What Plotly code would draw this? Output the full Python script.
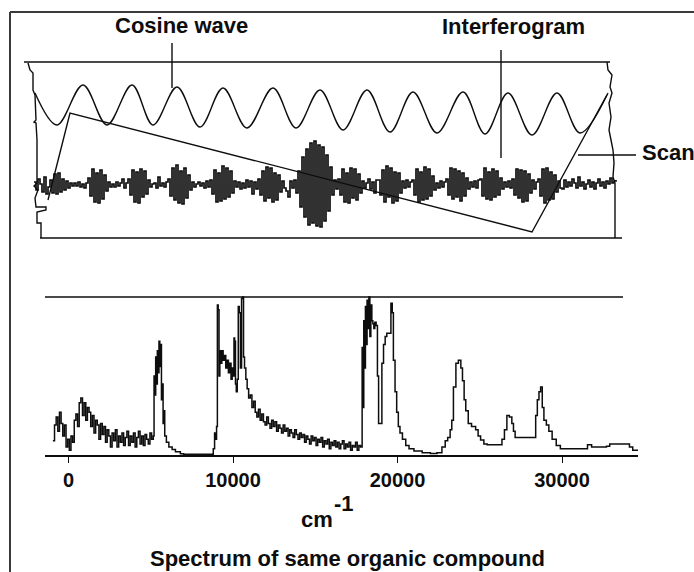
import plotly.graph_objects as go

W, H = 694, 572

# ---------------- top panel (arbitrary instrument units) ----------------
# cosine wave (reference laser) : extrema
cos_x = [13, 35, 61, 85, 110, 131, 155, 178, 201, 225, 251, 274, 298, 321, 345,
         368, 391, 415, 441, 463, 486, 510, 535, 558, 585]
cos_y = [145, 113, 153, 113, 153, 113, 151, 111, 150, 110, 150, 110, 148, 108, 148,
         106, 146, 105, 146, 104, 145, 103, 145, 105, 143]

# mirror scan (saw-tooth)
scan_x = [26, 48, 510, 586]
scan_y = [38, 125, 6, 145]

# jagged left / right traces of the recorder
left_x = [6, 8, 11, 11, 13, 14, 12, 14, 15, 15, 12, 16, 13, 14, 24, 24, 15, 15, 19, 19]
left_y = [175, 168, 165, 148, 143, 118, 116, 115, 98, 55, 52, 48, 40, 31, 31, 28, 26, 15, 15, 0]
right_x = [585, 586, 590, 588, 590, 587, 589, 587, 589, 591, 592, 591, 593, 593]
right_y = [176, 168, 163, 151, 145, 135, 121, 108, 98, 88, 75, 61, 55, 0]

# interferogram signal (sample index, amplitude about its own zero)
ifg_x = list(range(12, 596, 2))
ifg_y = [
    3, -5, 6, 1, -7, 8, -9, -2, 5, -8,
    11, -9, 12, -7, 6, -5, 4, -3, 2, -1,
    2, -1, 3, -2, 1, -3, 2, 7, -11, 16,
    -17, 12, -18, 15, -14, 10, -6, 3, -2, 1,
    -2, 3, -1, 2, 6, -3, 2, 6, -10, 15,
    -17, 13, -18, 16, -12, 14, -9, 5, -2, 1,
    2, -3, 8, -1, 2, -2, 3, 6, -11, 17,
    -15, 20, -18, 14, -19, 17, -13, 10, -5, 3,
    -2, 1, 3, -1, 2, -3, 4, -2, 5, -9,
    15, -17, 12, -16, 19, -14, 17, -12, 14, -8,
    4, -2, 3, -4, 2, -3, 5, -2, 4, -9,
    3, -4, 6, -10, 14, -16, 18, -13, 17, -17,
    12, -15, 10, -7, 4, -3, -6, -12, 4, -3,
    5, -8, 14, -22, 28, -32, 36, -40, 42, -38,
    44, -41, 40, -42, 38, -36, 30, -26, 18, -10,
    5, -4, 6, -10, 16, -17, 12, -18, 17, -13,
    16, -15, 11, -8, 4, -3, 2, 6, -4, 3,
    -8, 5, 5, -10, 15, -17, 19, -12, 17, -18,
    13, -16, 12, -8, 4, -3, 5, -2, 3, 5,
    -10, 16, -17, 13, -15, 18, -14, 16, -11, 9,
    -5, 2, -3, 4, -2, 3, 6, -10, 17, -14,
    16, -12, 14, -16, 12, -11, 7, -4, 3, -2,
    4, -3, 5, 6, -11, 17, -14, 13, -15, 16,
    -12, 14, -10, 7, -4, 3, -2, 4, -3, 6,
    -10, 16, -13, 15, -17, 14, -16, 11, -8, 5,
    -4, 3, 6, -11, 16, -18, 17, -15, 13, -14,
    10, -7, 4, -3, -4, 5, -2, 3, -1, 6,
    2, -3, 8, -1, 3, -4, 1, 5, -2, 3,
    -4, 2, 6, -1, 3, -3, 4, 1, 7, 2,
    4, 5,
]

# ---------------- bottom panel : spectrum ----------------
spec_wn = [
    # noisy low-wavenumber band
    -950, -850, -750, -650, -550, -450, -350, -250, -150, -50,
    50, 150, 250, 350, 450, 550, 650, 750, 850, 950,
    1050, 1150, 1250, 1350, 1450, 1550, 1650, 1750, 1850, 1950,
    2050, 2150, 2250, 2350, 2450, 2550, 2650, 2750, 2850, 2950,
    3050, 3150, 3250, 3350, 3450, 3550, 3650, 3750, 3850, 3950,
    4050, 4150, 4250, 4350, 4450, 4550, 4650, 4750, 4850, 4950,
    5050,
    # peak near 5500
    5150, 5200, 5250, 5300, 5350, 5400, 5450, 5500, 5550, 5600,
    5650, 5700, 5750, 5800, 5850, 5950, 6100, 6300, 6500, 6800,
    7000, 8700,
    # double peak near 10000
    8800, 8880, 8950, 9000, 9050, 9100, 9150, 9200, 9260, 9320,
    9400, 9480, 9560, 9640, 9720, 9800, 9880, 9950, 10000, 10060,
    10100, 10150, 10200, 10260, 10320, 10380, 10450, 10520, 10580, 10640,
    10700, 10780, 10860, 10950,
    # noisy decay
    11050, 11150, 11250, 11350, 11450, 11550, 11650, 11750, 11850, 11950,
    12050, 12150, 12250, 12350, 12450, 12550, 12650, 12750, 12850, 12950,
    13050, 13150, 13250, 13350, 13450, 13550, 13650, 13750, 13850, 13950,
    14050, 14150, 14250, 14350, 14450, 14550, 14650, 14750, 14850, 14950,
    15050, 15150, 15250, 15350, 15450, 15550, 15650, 15750, 15850, 15950,
    16050, 16150, 16250, 16350, 16450, 16550, 16650, 16750, 16850, 16950,
    17050, 17150, 17250, 17350, 17450, 17550, 17650,
    # strong band near 18000-20000 and the weaker ones
    17750, 17850, 17900, 17950, 18000, 18050, 18100, 18150, 18200, 18260, 18320, 18380,
    18440, 18500, 18560, 18620, 18700, 18780, 18850, 18950, 19050, 19150, 19250, 19350,
    19500, 19600, 19680, 19750, 19850, 19950, 20050, 20150, 20300, 20500, 20700, 21000,
    21500, 22000, 22400, 22700, 22900, 23050, 23200, 23300, 23400, 23550, 23700, 23850,
    23950, 24050, 24150, 24300, 24500, 24750, 24900, 25050, 25250, 25450, 26200, 26350,
    26500, 26650, 26800, 26950, 27050, 27150, 28250, 28400, 28500, 28600, 28700, 28800,
    28900, 29050, 29200, 29400, 29650, 29900, 31300, 31550, 31800, 32700, 32900, 33900,
    34100, 34300, 34700,
]
spec_val = [
    0.09, 0.19, 0.24, 0.15, 0.27, 0.20, 0.12, 0.19, 0.05, 0.10,
    0.03, 0.12, 0.08, 0.22, 0.26, 0.18, 0.33, 0.36, 0.25, 0.33,
    0.22, 0.30, 0.27, 0.18, 0.25, 0.14, 0.22, 0.19, 0.10, 0.20,
    0.13, 0.18, 0.08, 0.16, 0.12, 0.05, 0.14, 0.09, 0.16, 0.05,
    0.12, 0.08, 0.14, 0.06, 0.11, 0.15, 0.06, 0.12, 0.08, 0.14,
    0.05, 0.11, 0.15, 0.07, 0.12, 0.06, 0.13, 0.10, 0.07, 0.14,
    0.10,
    0.12, 0.50, 0.38, 0.62, 0.45, 0.66, 0.52, 0.72, 0.56, 0.70,
    0.35, 0.45, 0.20, 0.28, 0.12, 0.08, 0.05, 0.035, 0.02, 0.008,
    0.004, 0.004,
    0.04, 0.14, 0.10, 0.18, 0.95, 0.92, 0.50, 0.66, 0.58, 0.66,
    0.60, 0.63, 0.55, 0.60, 0.52, 0.58, 0.48, 0.55, 0.50, 0.74,
    0.72, 0.45, 0.40, 0.48, 0.94, 0.90, 0.55, 0.99, 1.00, 0.62,
    0.55, 0.48, 0.42, 0.36,
    0.38, 0.30, 0.34, 0.27, 0.24, 0.29, 0.22, 0.26, 0.21, 0.19,
    0.24, 0.20, 0.17, 0.22, 0.18, 0.21, 0.15, 0.19, 0.17, 0.14,
    0.19, 0.15, 0.17, 0.12, 0.16, 0.14, 0.11, 0.16, 0.13, 0.10,
    0.14, 0.11, 0.13, 0.08, 0.12, 0.10, 0.07, 0.12, 0.09, 0.11,
    0.06, 0.10, 0.08, 0.11, 0.05, 0.09, 0.07, 0.10, 0.04, 0.08,
    0.06, 0.09, 0.05, 0.08, 0.04, 0.07, 0.09, 0.04, 0.07, 0.05,
    0.08, 0.03, 0.06, 0.05, 0.08, 0.03, 0.06,
    0.05, 0.68, 0.30, 0.85, 0.55, 0.94, 0.70, 0.98, 0.80, 1.00, 0.75, 0.95,
    0.85, 0.83, 0.80, 0.84, 0.82, 0.50, 0.20, 0.20, 0.58, 0.70, 0.75, 0.77,
    0.77, 0.96, 0.90, 0.60, 0.40, 0.27, 0.18, 0.14, 0.10, 0.06, 0.04, 0.025,
    0.015, 0.01, 0.015, 0.05, 0.09, 0.11, 0.16, 0.22, 0.43, 0.58, 0.60, 0.55,
    0.47, 0.35, 0.28, 0.20, 0.18, 0.16, 0.12, 0.095, 0.07, 0.065, 0.065, 0.10,
    0.16, 0.25, 0.24, 0.20, 0.15, 0.11, 0.11, 0.25, 0.35, 0.40, 0.43, 0.30,
    0.22, 0.19, 0.15, 0.10, 0.06, 0.04, 0.04, 0.065, 0.05, 0.055, 0.07, 0.07,
    0.05, 0.03, 0.03,
]
tick_vals = [0, 10000, 20000, 30000]
tick_text = ["0", "10000", "20000", "30000"]

INK = "#0d0d0d"
FRAME = "#3a3a3a"
FONT = "Liberation Sans, Arial, sans-serif"


def px(x):
    return x / W


def py(y):
    return 1 - y / H


fig = go.Figure()

line_style = dict(color=INK, width=1.4)
fig.add_trace(go.Scatter(x=cos_x, y=cos_y, mode="lines",
                         line=dict(color=INK, width=1.4, shape="spline", smoothing=1.0),
                         xaxis="x2", yaxis="y2", hoverinfo="skip"))
fig.add_trace(go.Scatter(x=scan_x, y=scan_y, mode="lines", line=line_style, xaxis="x2", yaxis="y2", hoverinfo="skip"))
fig.add_trace(go.Scatter(x=left_x, y=left_y, mode="lines", line=line_style, xaxis="x2", yaxis="y2", hoverinfo="skip"))
fig.add_trace(go.Scatter(x=right_x, y=right_y, mode="lines", line=line_style, xaxis="x2", yaxis="y2", hoverinfo="skip"))
fig.add_trace(go.Scatter(x=ifg_x, y=ifg_y, mode="lines", line=dict(color=INK, width=1.7, shape="hv"),
                         xaxis="x2", yaxis="y3", hoverinfo="skip"))

fig.add_trace(go.Scatter(x=spec_wn, y=spec_val, mode="lines", line=dict(color=INK, width=1.5, shape="hv"),
                         xaxis="x", yaxis="y", hoverinfo="skip"))

shapes = [
    # top panel frame lines (in top-panel units)
    dict(type="line", xref="x2", yref="y2", x0=2, x1=588, y0=176, y1=176, line=dict(color=INK, width=1.6)),
    dict(type="line", xref="x2", yref="y2", x0=18, x1=600, y0=0, y1=0, line=dict(color=INK, width=1.6)),
    # bottom panel top line
    dict(type="line", xref="paper", yref="y", x0=px(45), x1=px(623), y0=1, y1=1, line=dict(color=INK, width=1.6)),
    # outer figure frame
    dict(type="line", xref="paper", yref="paper", x0=px(10), x1=px(694), y0=py(12), y1=py(12),
         line=dict(color=FRAME, width=2)),
    dict(type="line", xref="paper", yref="paper", x0=px(10), x1=px(10), y0=py(12), y1=py(572),
         line=dict(color=FRAME, width=2)),
    # leader lines
    dict(type="line", xref="paper", yref="paper", x0=px(172), x1=px(172), y0=py(43), y1=py(88),
         line=dict(color=INK, width=1.4)),
    dict(type="line", xref="paper", yref="paper", x0=px(501), x1=px(501), y0=py(50), y1=py(158),
         line=dict(color=INK, width=1.4)),
    dict(type="line", xref="paper", yref="paper", x0=px(578), x1=px(636), y0=py(155), y1=py(155),
         line=dict(color=INK, width=1.4)),
]

lab = dict(family=FONT, size=22, color=INK, weight="bold")
annotations = [
    dict(text="Cosine wave", x=px(181), y=py(26), xref="paper", yref="paper", showarrow=False,
         xanchor="center", yanchor="middle", font=lab),
    dict(text="Interferogram", x=px(513), y=py(27), xref="paper", yref="paper", showarrow=False,
         xanchor="center", yanchor="middle", font=lab),
    dict(text="Scan", x=px(640), y=py(152), xref="paper", yref="paper", showarrow=False,
         xanchor="left", yanchor="middle", font=lab),
    dict(text="cm", x=px(317), y=py(519), xref="paper", yref="paper", showarrow=False,
         xanchor="center", yanchor="middle", font=lab),
    dict(text="-1", x=px(344), y=py(503), xref="paper", yref="paper", showarrow=False,
         xanchor="center", yanchor="middle", font=lab),
    dict(text="Spectrum of same organic compound", x=px(347), y=py(558), xref="paper", yref="paper",
         showarrow=False, xanchor="center", yanchor="middle", font=lab),
]

hidden = dict(visible=False, showgrid=False, zeroline=False, fixedrange=True)

fig.update_layout(
    width=W, height=H,
    margin=dict(l=0, r=0, t=0, b=0),
    paper_bgcolor="white", plot_bgcolor="rgba(0,0,0,0)",
    showlegend=False,
    shapes=shapes,
    annotations=annotations,
    xaxis=dict(domain=[px(45), px(638)], range=[-1429, 34620], showgrid=False, zeroline=False,
               showline=True, linecolor=INK, linewidth=1.6, ticks="outside", ticklen=6, tickwidth=1.4,
               tickcolor=INK, tickvals=tick_vals, ticktext=tick_text, ticklabelstandoff=0,
               tickfont=dict(family=FONT, size=20, color=INK, weight="bold"), anchor="y"),
    yaxis=dict(domain=[py(455), py(289.1)], range=[0, 1.05], visible=False, showgrid=False,
               zeroline=False, anchor="x"),
    xaxis2=dict(domain=[px(12), px(632)], range=[-10, 610], anchor="y2", **hidden),
    yaxis2=dict(domain=[py(248), py(52)], range=[-10, 186], anchor="x2", **hidden),
    yaxis3=dict(domain=[py(248), py(52)], range=[-63, 133], overlaying="y2", anchor="x2", **hidden),
)

fig.write_html("out.html")
